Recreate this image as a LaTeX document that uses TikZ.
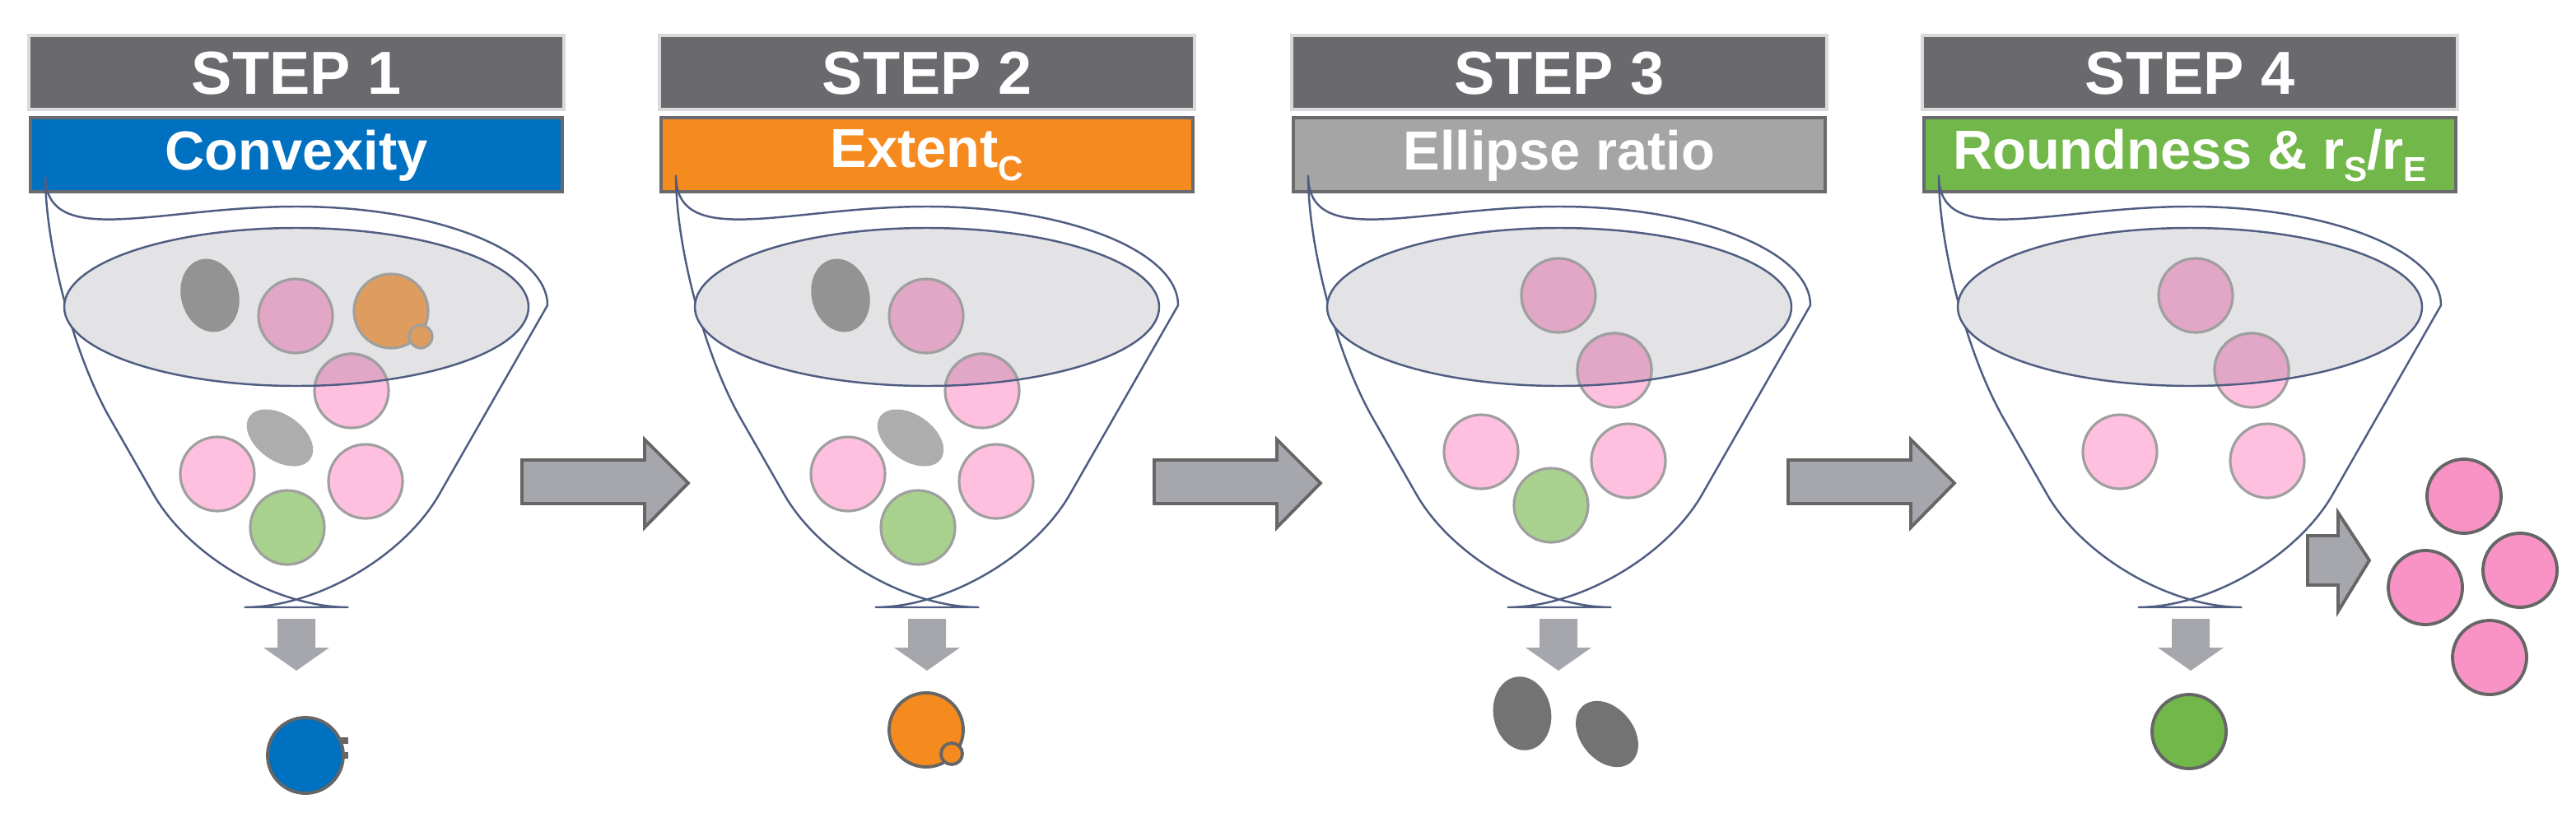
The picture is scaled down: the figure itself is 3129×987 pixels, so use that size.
\documentclass[tikz,border=0pt]{standalone}
\usepackage{fontspec}
\setmainfont{Liberation Sans}
\definecolor{hdr}{HTML}{6A6A6E}
\definecolor{hdrline}{HTML}{D9D9D9}
\definecolor{cblue}{HTML}{0070C0}
\definecolor{corange}{HTML}{F58A1F}
\definecolor{cgray}{HTML}{A5A5A5}
\definecolor{cgreen}{HTML}{72B74A}
\definecolor{funfill}{HTML}{E3E3E6}
\definecolor{funline}{HTML}{4F5D82}
\definecolor{dpink}{HTML}{E2A6C6}
\definecolor{lpink}{HTML}{FFC0E0}
\definecolor{lgreen}{HTML}{A9D18E}
\definecolor{dgrayb}{HTML}{939393}
\definecolor{lgrayb}{HTML}{ADADAD}
\definecolor{iorange}{HTML}{DE9C5E}
\definecolor{arrowfill}{HTML}{A6A7AD}
\definecolor{vpink}{HTML}{F993C6}
\newcommand\mysub[1]{\raisebox{-0.45ex}{\fontsize{12}{12}\selectfont #1}}
\newcommand\myheader[4]{%
  \begin{scope}[shift={(#1,0)}]
    \fill[hdr, draw=hdrline, line width=1pt] (35,-43) rectangle (685,-133);
    \fill[#3, draw=hdr, line width=1.4pt] (37,-143) rectangle (683,-233);
    \node[steptext] (step#2) at (360,-89) {STEP #2};
    \node[subtext] (sub#2) at (360,-189) {#4};
  \end{scope}}
\newcommand\myfunnel[1]{%
  \begin{scope}[shift={(#1,0)}]
    \draw[funnel, fill=white] (55,-371) arc (180:0:305 and 120) [rounded corners=45] -- (455,-738) -- (265,-738) -- cycle;
    \fill[funfill] (360,-373) ellipse (282 and 96);
  \end{scope}}
\newcommand\myrim[3]{% offset, x, y
  \begin{scope}[shift={(#1,0)}]
    \filldraw[ball, fill=lpink] (#2,#3) circle (45);
    \begin{scope}
      \clip (360,-373) ellipse (282 and 96);
      \filldraw[ball, fill=dpink] (#2,#3) circle (45);
    \end{scope}
    \draw[funnel] (360,-373) ellipse (282 and 96);
  \end{scope}}
\newcommand\mydown[1]{%
  \fill[arrowfill] (#1-23,-752) -- (#1+23,-752) -- (#1+23,-787) -- (#1+40,-787) -- (#1,-815) -- (#1-40,-787) -- (#1-23,-787) -- cycle;}
\newcommand\mybig[1]{%
  \filldraw[bigarrow] (#1,-559) -- (#1+149,-559) -- (#1+149,-534) -- (#1+202,-587) -- (#1+149,-641) -- (#1+149,-612) -- (#1,-612) -- cycle;}
\begin{document}
\begin{tikzpicture}[x=0.01cm,y=0.01cm,
  steptext/.style={text=white, font=\fontsize{21}{21}\selectfont\bfseries, inner sep=0pt},
  subtext/.style={text=white, font=\fontsize{19}{19}\selectfont\bfseries, inner sep=0pt},
  funnel/.style={draw=funline, line width=0.7pt},
  ball/.style={draw=gray!75, line width=0.9pt},
  dball/.style={draw=black!60, line width=1.1pt},
  bigarrow/.style={fill=arrowfill, draw=black!60, line width=1.1pt}]
\useasboundingbox (0,0) rectangle (3129,-987);

\myheader{0}{1}{cblue}{Convexity}
\myheader{766}{2}{corange}{Extent\mysub{C}}
\myheader{1534}{3}{cgray}{Ellipse ratio}
\myheader{2300}{4}{cgreen}{Roundness \& r\mysub{S}/r\mysub{E}}

% Step 1
\myfunnel{0}
\fill[dgrayb, rotate around={15:(255,-359)}] (255,-359) ellipse (35 and 45);
\filldraw[ball, fill=dpink] (359,-384) circle (45);
\filldraw[ball, fill=iorange] (475,-378) circle (45);
\filldraw[ball, fill=iorange] (511,-409) circle (14);
\myrim{0}{427}{-475}
\fill[lgrayb, rotate around={-35:(340,-532)}] (340,-532) ellipse (45 and 28);
\filldraw[ball, fill=lpink] (264,-576) circle (45);
\filldraw[ball, fill=lpink] (444,-585) circle (45);
\filldraw[ball, fill=lgreen] (349,-641) circle (45);
\mydown{360}
\fill[black!60] (414,-896) rectangle (423,-904);
\fill[black!60] (414,-914) rectangle (423,-922);
\filldraw[dball, fill=cblue] (371,-918) circle (46);

% Step 2
\myfunnel{766}
\begin{scope}[shift={(766,0)}]
\fill[dgrayb, rotate around={15:(255,-359)}] (255,-359) ellipse (35 and 45);
\filldraw[ball, fill=dpink] (359,-384) circle (45);
\end{scope}
\myrim{766}{427}{-475}
\begin{scope}[shift={(766,0)}]
\fill[lgrayb, rotate around={-35:(340,-532)}] (340,-532) ellipse (45 and 28);
\filldraw[ball, fill=lpink] (264,-576) circle (45);
\filldraw[ball, fill=lpink] (444,-585) circle (45);
\filldraw[ball, fill=lgreen] (349,-641) circle (45);
\filldraw[dball, fill=corange] (359,-887) circle (45);
\filldraw[dball, fill=corange] (390,-916) circle (13);
\end{scope}
\mydown{1126}
\mybig{634}

% Step 3
\myfunnel{1534}
\begin{scope}[shift={(1534,0)}]
\filldraw[ball, fill=dpink] (359,-359) circle (45);
\end{scope}
\myrim{1534}{427}{-450}
\begin{scope}[shift={(1534,0)}]
\filldraw[ball, fill=lpink] (265,-549) circle (45);
\filldraw[ball, fill=lpink] (444,-560) circle (45);
\filldraw[ball, fill=lgreen] (350,-614) circle (45);
\end{scope}
\mydown{1893}
\fill[black!55, rotate around={10:(1849,-867)}] (1849,-867) ellipse (35 and 45);
\fill[black!55, rotate around={-50:(1952,-892)}] (1952,-892) ellipse (45 and 32);
\mybig{1402}

% Step 4
\myfunnel{2300}
\begin{scope}[shift={(2300,0)}]
\filldraw[ball, fill=dpink] (367,-359) circle (45);
\end{scope}
\myrim{2300}{435}{-450}
\begin{scope}[shift={(2300,0)}]
\filldraw[ball, fill=lpink] (275,-549) circle (45);
\filldraw[ball, fill=lpink] (454,-560) circle (45);
\end{scope}
\mydown{2661}
\filldraw[dball, fill=cgreen] (2659,-889) circle (45);
\mybig{2172}
\filldraw[bigarrow] (2803,-651) -- (2840,-651) -- (2840,-623) -- (2878,-681) -- (2840,-743) -- (2840,-711) -- (2803,-711) -- cycle;
\filldraw[dball, fill=vpink] (2993,-603) circle (45);
\filldraw[dball, fill=vpink] (3061,-693) circle (45);
\filldraw[dball, fill=vpink] (2946,-714) circle (45);
\filldraw[dball, fill=vpink] (3024,-799) circle (45);
\end{tikzpicture}
\end{document}
